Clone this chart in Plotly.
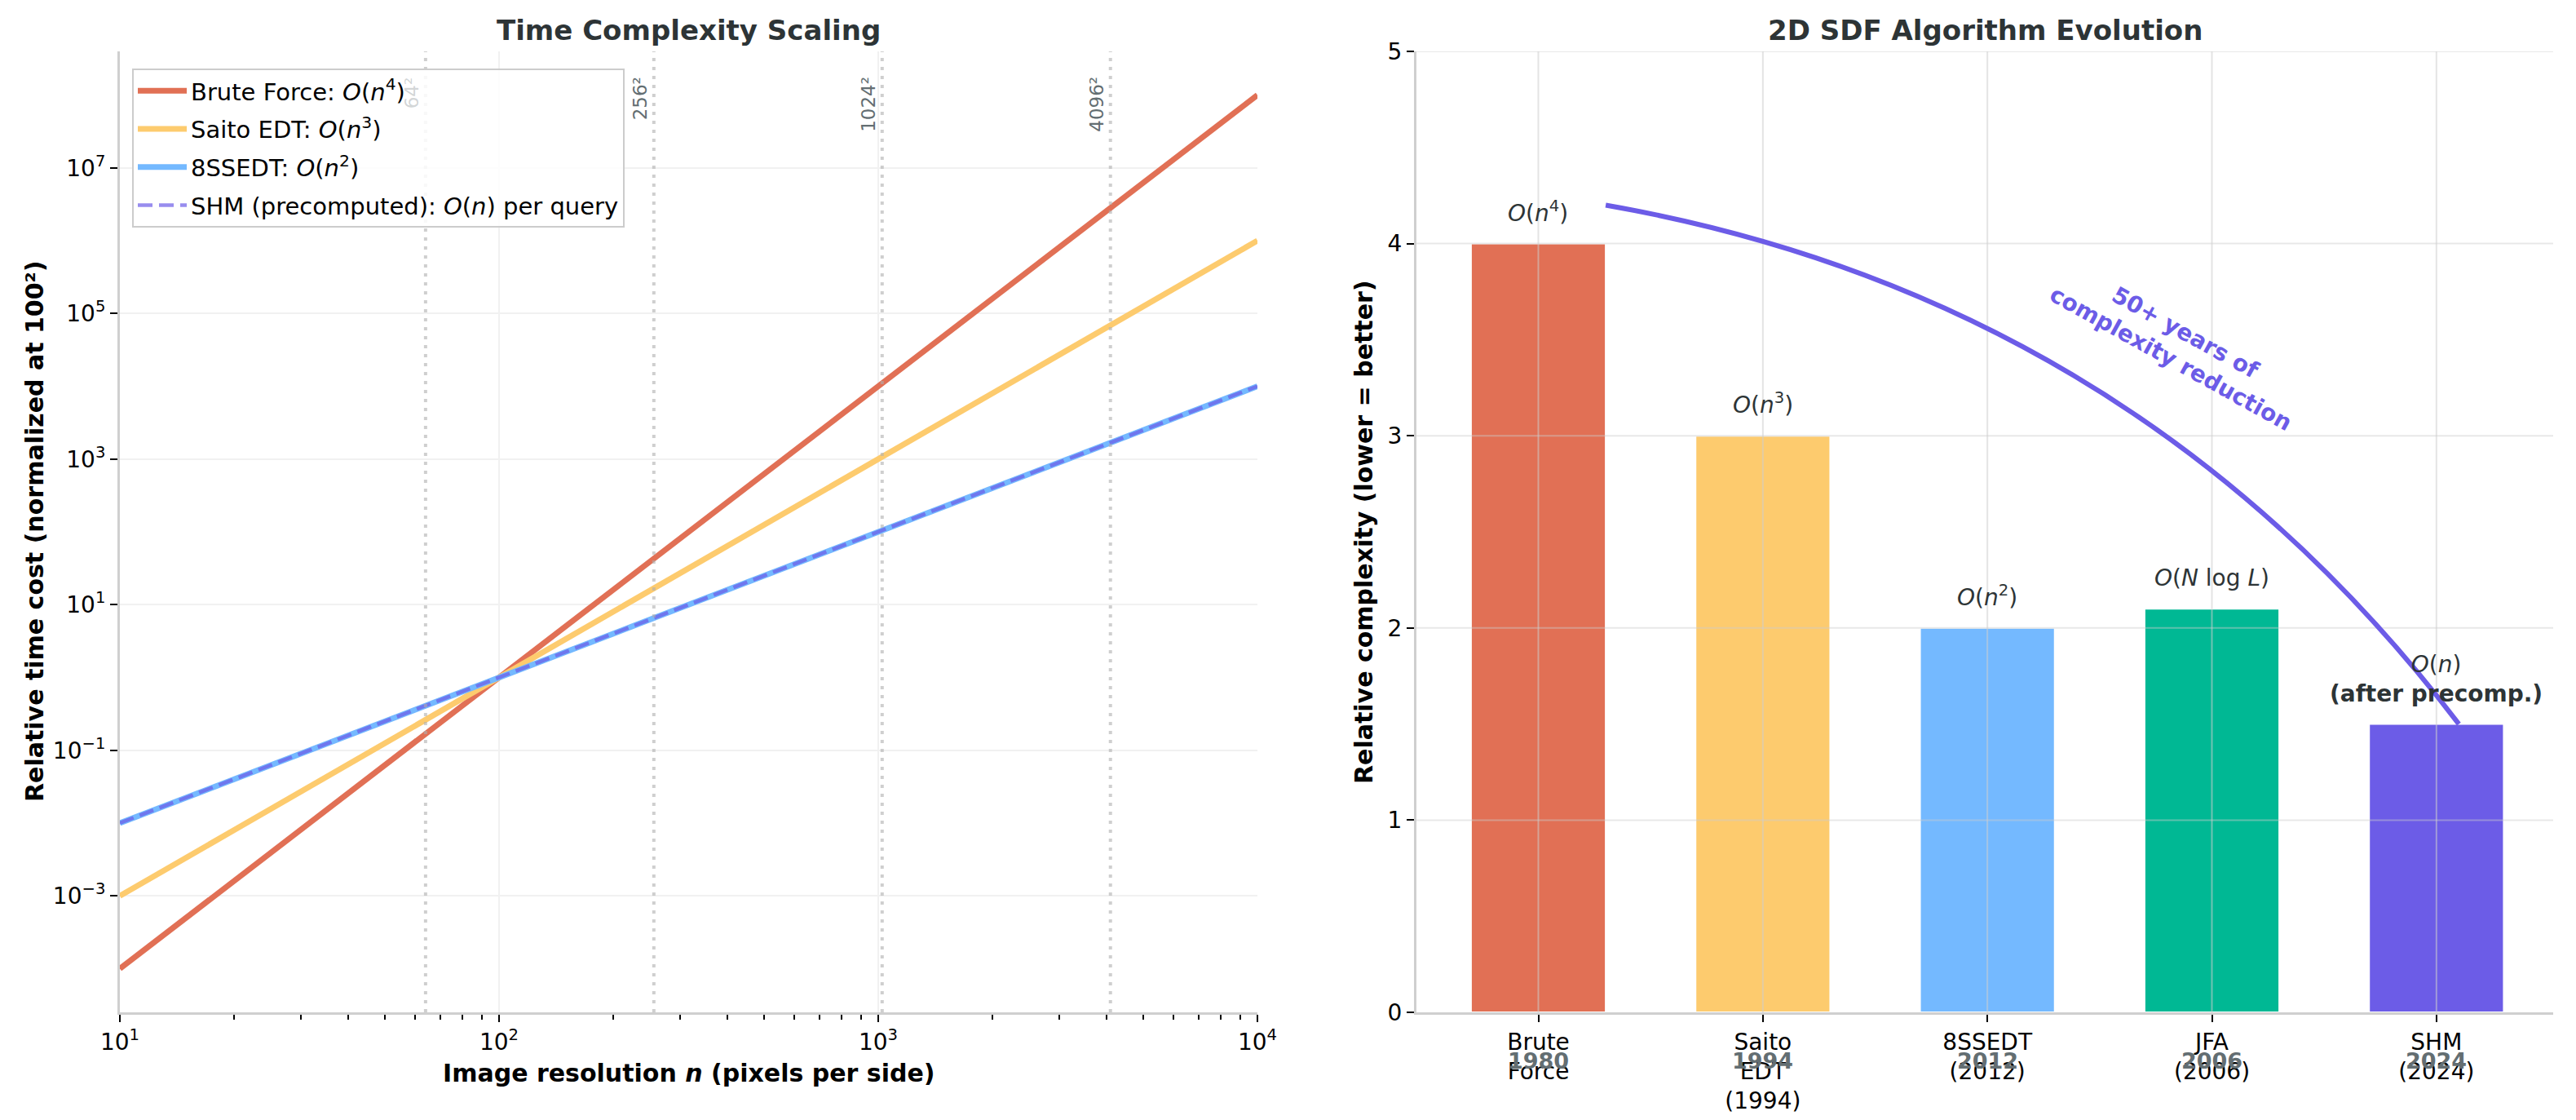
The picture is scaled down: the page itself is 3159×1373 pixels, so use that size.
import math
import plotly.graph_objects as go
from plotly.subplots import make_subplots

# ---- left panel: complexity curves (normalized at n = 100) ----
resolution = [10, 100, 1000, 10000]
brute_cost = [1e-4, 1, 1e4, 1e8]
saito_cost = [1e-3, 1, 1e3, 1e6]
ssedt_cost = [1e-2, 1, 1e2, 1e4]
shm_cost = [1e-2, 1, 1e2, 1e4]
marker_sizes = [64, 256, 1024, 4096]
marker_labels = ["64²", "256²", "1024²", "4096²"]
y_tickvals = [1e-3, 1e-1, 1e1, 1e3, 1e5, 1e7]
y_ticktext = ["10<sup>−3</sup>", "10<sup>−1</sup>", "10<sup>1</sup>",
              "10<sup>3</sup>", "10<sup>5</sup>", "10<sup>7</sup>"]
x_tickvals = [10, 100, 1000, 10000]
x_ticktext = ["10<sup>1</sup>", "10<sup>2</sup>", "10<sup>3</sup>", "10<sup>4</sup>"]

# ---- right panel: algorithm evolution ----
algorithms = ["Brute<br>Force", "Saito<br>EDT<br>(1994)", "8SSEDT<br>(2012)",
              "JFA<br>(2006)", "SHM<br>(2024)"]
years = ["1980", "1994", "2012", "2006", "2024"]
complexity = [4, 3, 2, 2.1, 1.5]
complexity_labels = ["<i>O</i>(<i>n</i><sup>4</sup>)", "<i>O</i>(<i>n</i><sup>3</sup>)",
                     "<i>O</i>(<i>n</i><sup>2</sup>)", "<i>O</i>(<i>N</i> log <i>L</i>)",
                     "<i>O</i>(<i>n</i>)<br><b>(after precomp.)</b>"]
arrow_start = (0.3, 4.2)
arrow_ctrl = (2.65, 3.72)
arrow_end = (4.1, 1.5)

RED, YELLOW, BLUE, GREEN, PURPLE = "#e17055", "#fdcb6e", "#74b9ff", "#00b894", "#6c5ce7"
bar_colors = [RED, YELLOW, BLUE, GREEN, PURPLE]
DARK = "#2d3436"
GREY = "#636e72"
FONT = "DejaVu Sans"

W, H = 3159, 1373


def fx(px):
    return px / W


def fy(py):
    return (H - py) / H


# plot areas in pixels
L1, R1 = 139, 1534
L2, R2 = 1729, 3123
TOP, BOT = 55, 1233

fig = make_subplots(rows=1, cols=2)

series = [
    (brute_cost, RED, "Brute Force: <i>O</i>(<i>n</i><sup>4</sup>)"),
    (saito_cost, YELLOW, "Saito EDT: <i>O</i>(<i>n</i><sup>3</sup>)"),
    (ssedt_cost, BLUE, "8SSEDT: <i>O</i>(<i>n</i><sup>2</sup>)"),
]
for i, (vals, col, name) in enumerate(series):
    fig.add_trace(go.Scatter(x=resolution, y=vals, mode="lines", legendgroup=str(i),
                             line=dict(color=col, width=7), name=name), row=1, col=1)
fig.add_trace(go.Scatter(x=resolution, y=shm_cost, mode="lines", opacity=0.7, legendgroup="3",
                         line=dict(color=PURPLE, width=4.5, dash="18px,8px"),
                         name="SHM (precomputed): <i>O</i>(<i>n</i>) per query"), row=1, col=1)

ylo, yhi = -4.6, 8.6
for n, lab in zip(marker_sizes, marker_labels):
    fig.add_trace(go.Scatter(x=[n, n], y=[10 ** ylo, 10 ** yhi], mode="lines",
                             line=dict(color="rgba(175,175,175,0.6)", width=4, dash="4px,7px"),
                             showlegend=False, hoverinfo="skip"), row=1, col=1)
    fig.add_annotation(x=math.log10(n), y=fy(84), xref="x", yref="paper",
                       text=lab, textangle=-90, showarrow=False,
                       xanchor="right", yanchor="top", xshift=-2,
                       font=dict(size=23, color="rgba(99,110,114,0.3)" if n == 64 else GREY))

fig.add_trace(go.Bar(x=list(range(len(algorithms))), y=complexity, width=0.6,
                     marker=dict(color=bar_colors, line=dict(color="white", width=2)),
                     showlegend=False), row=1, col=2)

for i, (h, lab) in enumerate(zip(complexity, complexity_labels)):
    fig.add_annotation(x=i, y=h + 0.08, xref="x2", yref="y2", text=lab,
                       showarrow=False, yanchor="bottom",
                       font=dict(size=28, color=DARK))
for i, yr in enumerate(years):
    fig.add_annotation(x=i, y=fy(1292), xref="x2", yref="paper", text="<b>%s</b>" % yr,
                       showarrow=False, xanchor="center", yanchor="middle",
                       font=dict(size=27, color=GREY))

xr2 = [-0.543, 4.52]
# grid over the bars, as in the source
for yv in [1, 2, 3, 4, 5]:
    fig.add_shape(type="line", xref="x2", yref="y2", x0=xr2[0], x1=xr2[1], y0=yv, y1=yv,
                  line=dict(color="rgba(205,205,205,0.45)", width=2), layer="above")
for xv in range(len(algorithms)):
    fig.add_shape(type="line", xref="x2", yref="y2", x0=xv, x1=xv, y0=0, y1=5,
                  line=dict(color="rgba(205,205,205,0.55)", width=2), layer="above")

fig.add_shape(type="path", xref="x2", yref="y2",
              path="M %g,%g Q %g,%g %g,%g" % (arrow_start + arrow_ctrl + arrow_end),
              line=dict(color=PURPLE, width=6), layer="above")
fig.add_annotation(x=2.85, y=3.47, xref="x2", yref="y2",
                   text="<b>50+ years of<br>complexity reduction</b>",
                   textangle=29, showarrow=False,
                   font=dict(size=28, color=PURPLE))

axis_common = dict(showline=True, linecolor="#cfcfcf", linewidth=3, mirror=False,
                   ticks="outside", tickcolor="black", tickwidth=2, ticklen=9,
                   tickfont=dict(size=28, color="black"), zeroline=False, automargin=False)

fig.update_xaxes(type="log", range=[1, 4], tickvals=x_tickvals, ticktext=x_ticktext,
                 showgrid=True, gridcolor="#f1f1f1", gridwidth=2,
                 minor=dict(ticks="outside", ticklen=6, tickwidth=1.5, tickcolor="black",
                            dtick="D1", showgrid=False),
                 domain=[fx(L1), fx(R1)], **axis_common, row=1, col=1)
fig.update_yaxes(type="log", range=[ylo, yhi], tickvals=y_tickvals, ticktext=y_ticktext,
                 showgrid=True, gridcolor="#f1f1f1", gridwidth=2,
                 domain=[fy(BOT), fy(TOP)], **axis_common, row=1, col=1)
fig.update_xaxes(range=xr2, tickvals=list(range(len(algorithms))), ticktext=algorithms,
                 showgrid=False, domain=[fx(L2), fx(R2)], **axis_common, row=1, col=2)
fig.update_yaxes(range=[0, 5], tickvals=[0, 1, 2, 3, 4, 5], showgrid=False,
                 domain=[fy(BOT), fy(TOP)], **axis_common, row=1, col=2)

# titles and axis labels
titles = [
    ((L1 + R1) / 2, 29, "<b>Time Complexity Scaling</b>", 34, DARK, 0),
    ((L2 + R2) / 2, 29, "<b>2D SDF Algorithm Evolution</b>", 34, DARK, 0),
    ((L1 + R1) / 2, 1307, "<b>Image resolution <i>n</i> (pixels per side)</b>", 30, "black", 0),
    (34, (TOP + BOT) / 2, "<b>Relative time cost (normalized at 100²)</b>", 30, "black", -90),
    (1664, (TOP + BOT) / 2, "<b>Relative complexity (lower = better)</b>", 30, "black", -90),
]
for tx, ty, text, size, col, ang in titles:
    fig.add_annotation(x=fx(tx), y=fy(ty), xref="paper", yref="paper", text=text,
                       showarrow=False, xanchor="center", yanchor="middle", textangle=ang,
                       font=dict(size=size, color=col))

fig.update_layout(
    width=W, height=H,
    margin=dict(l=0, r=0, t=0, b=0, autoexpand=False),
    paper_bgcolor="white", plot_bgcolor="white",
    font=dict(family=FONT, size=28, color="black"),
    legend=dict(x=fx(154), y=fy(76),
                xref="paper", yref="paper", xanchor="left", yanchor="top",
                bgcolor="rgba(255,255,255,0.85)", bordercolor="#cccccc", borderwidth=2,
                font=dict(size=29), itemwidth=60, tracegroupgap=6),
)

fig.write_html("out.html")
